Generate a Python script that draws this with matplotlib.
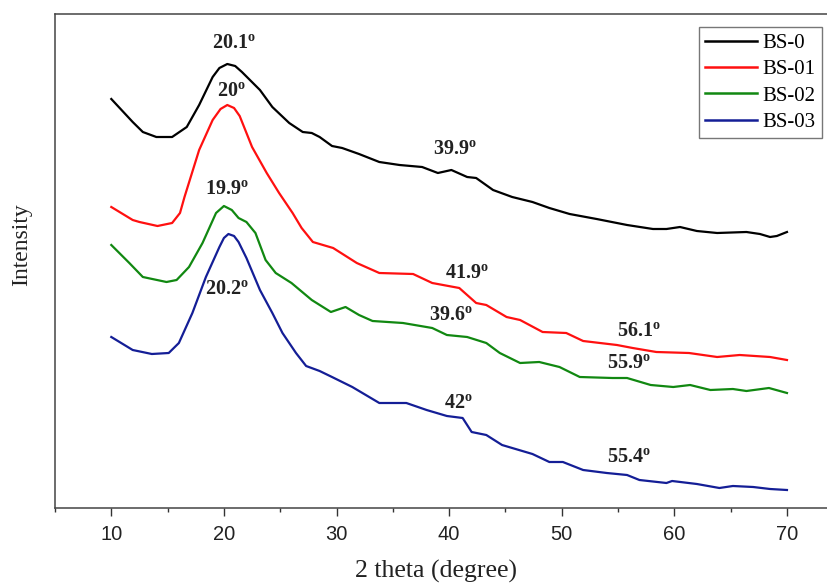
import matplotlib
matplotlib.use("Agg")
import matplotlib.pyplot as plt
from matplotlib.ticker import MultipleLocator

# ---------------- data ----------------
series_names = ["BS-0", "BS-01", "BS-02", "BS-03"]
series_colors = ["#000000", "#ff1010", "#118811", "#141e96"]

bs0_x = [10.0, 11.9, 12.8, 14.0, 15.4, 16.7, 17.8, 19.0, 19.6, 20.3, 21.0, 21.6, 23.2, 24.3,
         25.8, 27.0, 27.8, 28.5, 29.6, 30.5, 32.0, 33.8, 35.6, 37.6, 39.0, 40.2, 41.6, 42.4,
         43.9, 45.6, 47.4, 48.9, 50.7, 53.1, 55.8, 58.1, 59.3, 60.5, 62.0, 63.8, 66.4, 67.6,
         68.5, 69.1, 70.0]
bs0_y = [409, 386, 376, 371, 371, 381, 403, 431, 440, 444, 442, 436, 418, 401,
         385, 376, 375, 371, 362, 360, 354, 346, 343, 341, 335, 338, 331, 330,
         318, 311, 306, 300, 294, 289, 283, 279, 279, 281, 277, 275, 276, 274,
         271, 272, 276]

bs01_x = [10.0, 11.9, 12.5, 14.1, 15.4, 16.1, 16.5, 17.8, 19.0, 19.7, 20.3, 20.9, 21.4, 22.5,
          23.8, 24.9, 26.1, 26.9, 27.9, 29.7, 31.8, 33.8, 36.8, 38.5, 40.9, 42.4, 43.3, 45.1,
          46.3, 48.3, 50.4, 51.9, 53.4, 54.9, 56.3, 58.4, 61.3, 63.8, 65.8, 68.5, 70.0]
bs01_y = [301, 288, 286, 282, 285, 295, 311, 358, 388, 399, 403, 400, 392, 361,
          335, 315, 295, 280, 266, 260, 245, 235, 234, 225, 220, 205, 203, 191,
          188, 176, 175, 167, 165, 163, 160, 156, 155, 151, 153, 151, 148]

bs02_x = [10.0, 11.6, 12.8, 14.9, 15.8, 16.9, 18.1, 19.3, 20.0, 20.7, 21.3, 22.0, 22.8, 23.7,
          24.6, 26.0, 27.8, 29.5, 30.8, 32.0, 33.2, 35.9, 38.5, 39.8, 41.6, 43.3, 44.5, 46.3,
          48.0, 49.8, 51.6, 54.5, 55.8, 57.9, 59.9, 61.4, 63.2, 65.2, 66.4, 68.4, 70.0]
bs02_y = [263, 245, 231, 226, 228, 241, 265, 295, 302, 298, 290, 286, 275, 248,
          235, 225, 208, 196, 201, 193, 187, 185, 180, 173, 171, 165, 155, 145,
          146, 141, 131, 130, 130, 123, 121, 123, 118, 119, 117, 120, 115]

bs03_x = [10.0, 11.9, 13.6, 15.1, 16.0, 17.2, 18.4, 19.6, 20.0, 20.4, 20.9, 21.3, 22.0, 23.2,
          24.3, 25.2, 26.4, 27.3, 28.5, 29.6, 31.4, 32.6, 33.8, 36.2, 38.0, 39.8, 41.2, 42.0,
          43.3, 44.7, 46.2, 47.4, 48.9, 50.1, 51.9, 54.0, 55.8, 56.9, 59.3, 59.8, 62.0, 64.0,
          65.2, 67.0, 68.5, 70.0]
bs03_y = [171, 158, 154, 155, 165, 195, 231, 261, 270, 274, 272, 266, 250, 218,
          195, 175, 155, 142, 137, 131, 121, 113, 105, 105, 98, 92, 90, 76,
          73, 63, 58, 54, 46, 46, 38, 35, 33, 28, 25, 27, 24, 20,
          22, 21, 19, 18]

ann_text = ["20.1", "20", "19.9", "20.2", "39.9", "41.9", "39.6", "42", "56.1", "55.9", "55.4"]
ann_x = [20.9, 20.7, 20.3, 20.3, 40.5, 41.6, 40.2, 40.8, 56.9, 56.0, 56.0]
ann_y = [465, 418, 320, 220, 359, 236, 193, 106, 178, 145, 51]

x_ticks = [10, 20, 30, 40, 50, 60, 70]

# ---------------- style ----------------
plt.rcParams["mathtext.fontset"] = "custom"
plt.rcParams["mathtext.rm"] = "Liberation Serif"
plt.rcParams["mathtext.bf"] = "Liberation Serif:bold"
plt.rcParams["mathtext.it"] = "Liberation Serif:italic"

W, H = 827, 583
fig = plt.figure(figsize=(W / 100, H / 100), dpi=100)
ax = fig.add_axes([55 / W, 1 - 508 / H, 1 - 55 / W, (508 - 14) / H])

xs = [bs0_x, bs01_x, bs02_x, bs03_x]
ys = [bs0_y, bs01_y, bs02_y, bs03_y]
for x, y, name, c in zip(xs, ys, series_names, series_colors):
    ax.plot(x, y, color=c, lw=1.6, label=name, solid_joinstyle="round")

for t, x, y in zip(ann_text, ann_x, ann_y):
    ax.text(x, y, r"$\mathbf{%s}^{\mathbf{o}}$" % t, ha="center", va="center",
            fontsize=14.5, color="#222222")

ax.set_xlim(5, 10 + (827 - 112) / 11.25)
ax.set_ylim(0, 494)
ax.set_xticks(x_ticks)
ax.xaxis.set_minor_locator(MultipleLocator(5))
ax.set_yticks([])
ax.tick_params(axis="x", which="major", direction="out", length=6, width=1.0,
               pad=6, labelsize=14.5, colors="#333333")
ax.tick_params(axis="x", which="minor", direction="out", length=3, width=1.0,
               colors="#333333")
for lab in ax.get_xticklabels():
    lab.set_fontfamily("Liberation Sans")
    lab.set_color("#222222")

for s in ["left", "bottom", "top"]:
    ax.spines[s].set_color("#444444")
    ax.spines[s].set_linewidth(1.1)
ax.spines["right"].set_visible(False)

ax.set_xlabel("2 theta (degree)", fontsize=18.5, family="Liberation Serif", color="#222222")
ax.xaxis.set_label_coords((436 - 55) / 772, (508 - 560) / 494)
ax.set_ylabel("Intensity", fontsize=17, family="Liberation Serif", color="#222222")
ax.yaxis.set_label_coords((32 - 55) / 772, (508 - 245) / 494)

leg = ax.legend(loc="upper left", bbox_to_anchor=(699 / W, 1 - 27 / H),
                bbox_transform=fig.transFigure, frameon=True, fancybox=False,
                borderpad=0.3, handlelength=2.5, handletextpad=0.25,
                labelspacing=0.33, borderaxespad=0,
                prop={"family": "Liberation Serif", "size": 15})
leg.get_frame().set_edgecolor("#555555")
leg.get_frame().set_linewidth(1.0)
for line in leg.get_lines():
    line.set_linewidth(1.8)

fig.savefig("out.png", dpi=100)
